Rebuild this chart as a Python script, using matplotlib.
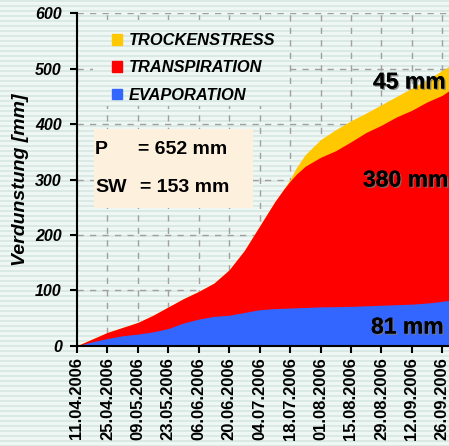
import numpy as np
import matplotlib
matplotlib.use('Agg')
import matplotlib.pyplot as plt
import matplotlib.patheffects as pe
from matplotlib.patches import Patch, Rectangle

plt.rcParams['font.family'] = ['Liberation Sans', 'DejaVu Sans']

# days after 11.04.2006
days = [0, 7, 14, 21, 28, 35, 42, 49, 56, 63, 70, 77, 84, 91, 95, 98, 101,
        105, 112, 119, 126, 133, 140, 147, 154, 161, 168, 171]
# cumulative tops of the stacked areas [mm]
evaporation = [0, 7, 13, 18, 21, 25, 31, 41, 48, 53, 55, 60, 65, 67, 67.5, 68, 68.5,
               69, 70, 70.5, 71, 72, 73, 74, 75, 77, 80, 82]
transpiration_top = [0, 12, 24, 33, 42, 55, 70, 85, 98, 113, 137, 172, 216, 260, 282, 297, 310,
                     324, 340, 352, 368, 385, 398, 413, 425, 440, 452, 460]
trockenstress_top = [0, 12, 24, 33, 42, 55, 70, 85, 98, 113, 137, 172, 216, 260, 282, 300, 322,
                     345, 372, 390, 406, 420, 435, 450, 465, 480, 497, 504]

tick_labels = ['11.04.2006', '25.04.2006', '09.05.2006', '23.05.2006', '06.06.2006',
               '20.06.2006', '04.07.2006', '18.07.2006', '01.08.2006', '15.08.2006',
               '29.08.2006', '12.09.2006', '26.09.2006']
tick_days = [14 * i for i in range(len(tick_labels))]

W, H = 449, 446
fig = plt.figure(figsize=(W / 100, H / 100), dpi=100)

# striped background
def stripes(h, w):
    light = np.array([238, 247, 244]) / 255
    dark = np.array([219, 233, 228]) / 255
    a = np.zeros((h, w, 3))
    for r in range(h):
        a[r, :, :] = dark if (r % 5) in (0, 1) else light
    return a

fig.figimage(stripes(H, W), 0, 0, zorder=-10)
fig.patch.set_alpha(0)

ax = fig.add_axes([77 / W, 1 - 345.7 / H, 1 - 77 / W, (345.7 - 13.3) / H])
ax.set_facecolor('none')

ax.fill_between(days, trockenstress_top, color='#ffc800', lw=0, zorder=2)
ax.fill_between(days, transpiration_top, color='#ff0000', lw=0, zorder=3)
ax.fill_between(days, evaporation, color='#3366ff', lw=0, zorder=4)

ax.set_xlim(0, 171.1)
ax.set_ylim(0, 600)
ax.set_yticks(range(0, 601, 100))
ax.set_xticks(tick_days)
ax.set_xticklabels(tick_labels, rotation=90, fontsize=12, fontweight='bold')
for t in ax.get_yticklabels():
    t.set_fontsize(11.5)
    t.set_fontweight('bold')
    t.set_fontstyle('italic')

ax.grid(True, color='#a0a0a0', lw=1, ls=(0, (4.5, 4.5)), zorder=1)
ax.set_axisbelow(True)
for s in ['top', 'right']:
    ax.spines[s].set_visible(False)
for s in ['left', 'bottom']:
    ax.spines[s].set_linewidth(1.5)
    ax.spines[s].set_zorder(6)
ax.tick_params(axis='y', direction='out', length=5, width=1.5, pad=6)
ax.tick_params(axis='x', direction='out', length=5, width=1.5, pad=3)

ax.set_ylabel('Verdunstung [mm]', fontsize=14, fontweight='bold', fontstyle='italic')
ax.yaxis.set_label_coords(-0.13, 0.5)

# legend sits on a patch of background stripes (hides the grid)
fig.figimage(stripes(86, 192), xo=93, yo=H - 106, zorder=1)
handles = [Patch(color='#ffc800', label='TROCKENSTRESS'),
           Patch(color='#ff0000', label='TRANSPIRATION'),
           Patch(color='#3366ff', label='EVAPORATION')]
leg = fig.legend(handles=handles, loc='upper left', bbox_to_anchor=(99 / W, 1 - 20 / H),
                 frameon=False, prop={'size': 11.8, 'weight': 'bold', 'style': 'italic'},
                 handlelength=0.6, handleheight=0.6, handletextpad=0.4,
                 labelspacing=0.75, borderpad=0.3)
leg.set_zorder(2)

# P / SW box
fig.add_artist(Rectangle((94 / W, 1 - 208 / H), (253 - 94) / W, (208 - 129) / H,
                         transform=fig.transFigure, facecolor='#fdf0dc', edgecolor='none', zorder=7))
tkw = dict(fontsize=14, fontweight='bold', va='center', ha='left', zorder=8)
fig.text(95 / W, 1 - 149 / H, 'P', **tkw)
fig.text(138 / W, 1 - 149 / H, '= 652 mm', **tkw)
fig.text(95 / W, 1 - 188 / H, 'SW', **tkw)
fig.text(140 / W, 1 - 188 / H, '= 153 mm', **tkw)

shadow = [pe.withSimplePatchShadow(offset=(1, -1), shadow_rgbFace='#777777', alpha=0.8), pe.Normal()]
lkw = dict(fontsize=16.5, fontweight='bold', va='center', ha='left', zorder=9)
t1 = fig.text(373 / W, 1 - 82 / H, '45 mm', **lkw)
t2 = fig.text(363 / W, 1 - 180 / H, '380 mm', **lkw)
t3 = fig.text(371 / W, 1 - 327 / H, '81 mm', **lkw)
for t in (t1, t2, t3):
    t.set_path_effects(shadow)

fig.savefig('out.png', dpi=100)
